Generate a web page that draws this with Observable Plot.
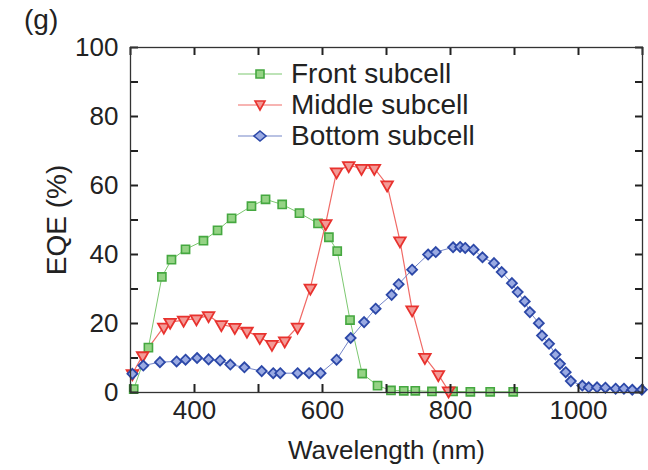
<!DOCTYPE html>
<html><head><meta charset="utf-8">
<script src="https://cdn.jsdelivr.net/npm/d3@7"></script>
<script src="https://cdn.jsdelivr.net/npm/@observablehq/plot@0.6"></script>
<style>
body{margin:0;background:#fff;}
#wrap{position:relative;width:648px;height:470px;font-family:"Liberation Sans",Arial,sans-serif;color:#222;}
#legend{position:absolute;left:236px;top:58px;}
.row{display:flex;align-items:center;height:31px;font-size:28px;line-height:31px;}
.row svg{margin-right:7px;}
#panel{position:absolute;left:24px;top:4px;font-size:28px;}
</style></head><body>
<div id="wrap"><div id="chart"></div><div id="panel">(g)</div><div id="legend"></div></div>
<script>
// ---- data ----
const seriesNames = ["Front subcell", "Middle subcell", "Bottom subcell"];
const seriesColors = ["#45a840", "#e8322e", "#2c48a8"];
const fillColors = ["#95d385", "#f39a96", "#9aaae2"];
const lineColors = ["#7cc870", "#f06a66", "#7485c8"];
const frontNm  = [305, 328, 349, 364, 386, 414, 436, 458, 489, 511, 537, 564, 593, 610, 623, 643, 662, 686, 707, 727, 745, 771, 804, 831, 862, 898];
const frontEqe = [1, 13, 33.5, 38.5, 41.5, 44, 47, 50.5, 54, 56, 54.5, 52, 49, 45, 41, 21, 5.5, 2, 0.6, 0.5, 0.5, 0.3, 0.3, 0.2, 0.2, 0.2];
const middleNm  = [303, 319, 352, 362, 383, 403, 422, 442, 463, 482, 502, 521, 541, 561, 581, 605, 622, 641, 661, 681, 701, 721, 740, 760, 781, 797];
const middleEqe = [5.5, 10.7, 19, 20.4, 21, 21.4, 22.3, 19.7, 18.9, 17.8, 16, 14, 15, 19, 30.3, 49, 64, 65.8, 65, 65, 60.2, 44, 24, 10.2, 5.2, 0.5];
const bottomNm  = [303, 320, 346, 372, 386, 404, 422, 440, 456, 478, 505, 523, 534, 561, 579, 597, 622, 644, 665, 683, 708, 719, 740, 765, 777, 804, 815, 823, 836, 850, 868, 880, 896, 905, 916, 924, 938, 943, 954, 964, 971, 980, 988, 1006, 1016, 1029, 1042, 1058, 1071, 1084, 1099];
const bottomEqe = [5.4, 7.8, 8.8, 9, 9.5, 10, 9.6, 9.3, 8.1, 7.3, 6.2, 5.6, 5.6, 5.6, 5.6, 5.6, 9.5, 15.8, 20.4, 24.3, 28.3, 31.4, 35.6, 40, 40.7, 42.1, 42.2, 41.9, 41.4, 39.2, 37.5, 34.9, 31.7, 29.1, 26.4, 23.3, 20.1, 16.5, 14.1, 11, 8.3, 5.9, 3.3, 2, 1.5, 1.5, 1.4, 1.1, 1.1, 0.8, 0.8];
const xMinorTicks = [300, 400, 500, 600, 700, 800, 900, 1000, 1100];
const xTickLabels = [400, 600, 800, 1000];
const yMinorTicks = [0, 10, 20, 30, 40, 50, 60, 70, 80, 90, 100];
const yTickLabels = [0, 20, 40, 60, 80, 100];

const toRows = (nm, v) => nm.map((x, i) => ({x, y: v[i]}));
const front = toRows(frontNm, frontEqe);
const middle = toRows(middleNm, middleEqe);
const bottom = toRows(bottomNm, bottomEqe);

const W = 648, H = 470, mL = 130, mR = 6, mT = 47, mB = 78;
const frameW = W - mL - mR, frameH = H - mT - mB, tk = 8;
const chart = Plot.plot({
  width: W, height: H,
  marginLeft: mL, marginRight: mR, marginTop: mT, marginBottom: mB,
  style: {fontFamily: "Liberation Sans, Arial, sans-serif", fontSize: "26px", color: "#222", background: "white", overflow: "visible"},
  x: {domain: [300, 1100]},
  y: {domain: [0, 100]},
  marks: [
    Plot.axisX({anchor: "bottom", ticks: xTickLabels, tickSize: 0, tickPadding: 8, fontSize: 26, tickFormat: d3.format("d"),
      label: "Wavelength (nm)", labelAnchor: "center", labelArrow: "none", labelOffset: 66}),
    Plot.axisY({anchor: "left", ticks: yTickLabels, tickSize: 0, tickPadding: 12, fontSize: 26, tickFormat: d3.format("d"), label: null}),
    Plot.axisY({anchor: "left", ticks: [], tickSize: 0, fontSize: 28, label: "EQE (%)", labelAnchor: "center", labelArrow: "none", labelOffset: 84}),
    Plot.line(front, {x: "x", y: "y", stroke: lineColors[0], strokeWidth: 1}),
    Plot.line(middle, {x: "x", y: "y", stroke: lineColors[1], strokeWidth: 1.2}),
    Plot.line(bottom, {x: "x", y: "y", stroke: lineColors[2], strokeWidth: 1}),
    Plot.dot(front, {x: "x", y: "y", symbol: "square", r: 4.6, fill: fillColors[0], stroke: seriesColors[0], strokeWidth: 1.6}),
    Plot.dot(middle, {x: "x", y: "y", symbol: "triangle", rotate: 180, r: 4.3, fill: fillColors[1], stroke: seriesColors[1], strokeWidth: 1.8}),
    Plot.dot(bottom, {x: "x", y: "y", symbol: "diamond2", r: 4.5, fill: fillColors[2], stroke: seriesColors[2], strokeWidth: 1.8}),
    // inward ticks on all four sides
    Plot.tickX(xMinorTicks, {x: d => d, insetTop: frameH - tk, stroke: "#222", strokeWidth: 2}),
    Plot.tickX(xMinorTicks, {x: d => d, insetBottom: frameH - tk, stroke: "#222", strokeWidth: 2}),
    Plot.axisY({anchor: "left", ticks: yMinorTicks, tickSize: tk, dx: tk, tickFormat: () => "", label: null, stroke: "#222", strokeWidth: 2}),
    Plot.axisY({anchor: "right", ticks: yMinorTicks, tickSize: tk, dx: -tk, tickFormat: () => "", label: null, stroke: "#222", strokeWidth: 2}),
    Plot.frame({stroke: "#333", strokeWidth: 1.3})
  ]
});
document.getElementById("chart").append(chart);

// legend
const symbolPaths = [
  "M-4,-4h8v8h-8z",
  "M0,5L-5,-4L5,-4Z",
  "M0,-5L6,0L0,5L-6,0Z"
];
const legend = document.getElementById("legend");
seriesNames.forEach((name, i) => {
  const row = document.createElement("div");
  row.className = "row";
  row.innerHTML = `<svg width="48" height="14" viewBox="-24 -7 48 14"><line x1="-22" x2="22" y1="0" y2="0" stroke="${lineColors[i]}" stroke-width="1.2"/><path d="${symbolPaths[i]}" fill="${fillColors[i]}" stroke="${seriesColors[i]}" stroke-width="1.6"/></svg><span>${name}</span>`;
  legend.append(row);
});
</script>
</body></html>
